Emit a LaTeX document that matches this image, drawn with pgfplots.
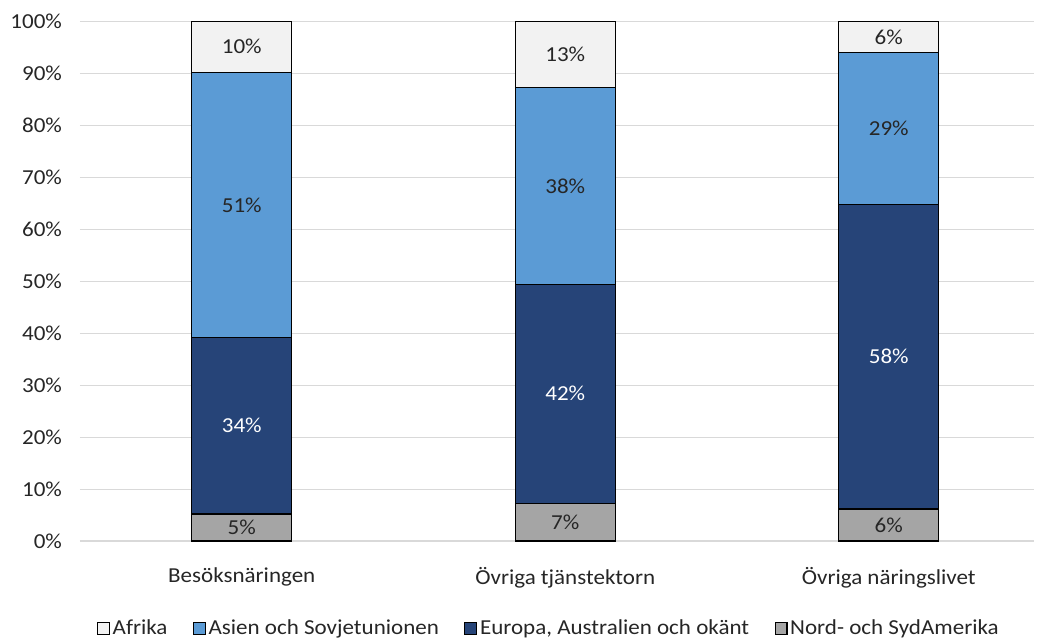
\documentclass[border=0pt]{standalone}
\usepackage{pgfplots}
\pgfplotsset{compat=1.18}
\usepackage{fontspec}
\setmainfont{Carlito}[FakeStretch=1.08]
\definecolor{cAfr}{HTML}{F2F2F2}
\definecolor{cAsi}{HTML}{5B9BD5}
\definecolor{cEur}{HTML}{264478}
\definecolor{cNor}{HTML}{A5A5A5}
\definecolor{cGrid}{HTML}{D9D9D9}
\definecolor{cTxt}{HTML}{262626}
\pgfplotsset{
  base/.style={
    scale only axis,
    width=716pt, height=390pt,
    xmin=-0.5, xmax=2.45,
    ymin=0, ymax=100,
    clip=false,
  }
}
\begin{document}
\begin{tikzpicture}
\begin{axis}[
  base,
  ybar stacked, bar width=75pt,
  ytick={0,10,...,100},
  yticklabel={\pgfmathprintnumber{\tick}\%},
  /pgf/number format/assume math mode=true,
  xtick={0,1,2},
  xticklabels={Besöksnäringen,Övriga tjänstektorn,Övriga näringslivet},
  tick style={draw=none},
  ymajorgrids, grid style={cGrid, line width=1pt},
  axis x line*=bottom, axis y line*=left,
  x axis line style={cGrid, line width=1pt, -},
  y axis line style={draw=none},
  ticklabel style={font=\fontsize{16pt}{19pt}\selectfont, text=cTxt},
  xticklabel style={yshift=-16pt},
  yticklabel style={xshift=-10pt},
  reverse legend,
  legend style={at={(0.5,0)}, anchor=north, yshift=-55pt, xshift=-6pt, draw=none, fill=none,
    legend columns=4, font=\fontsize{16pt}{19pt}\selectfont, text=cTxt,
    /tikz/every even column/.append style={column sep=17pt}},
  legend image code/.code={\draw[#1, draw=black, line width=0.8pt] (0pt,-4.5pt) rectangle (9pt,4.5pt);},
]
\addplot[fill=cNor, draw=black, line width=1pt]
  coordinates {(0,5.2) (1,7.3) (2,6.2)};
\addplot[fill=cEur, draw=black, line width=1pt]
  coordinates {(0,34.0) (1,42.1) (2,58.6)};
\addplot[fill=cAsi, draw=black, line width=1pt]
  coordinates {(0,51.0) (1,37.9) (2,29.2)};
\addplot[fill=cAfr, draw=black, line width=1pt]
  coordinates {(0,9.8) (1,12.7) (2,6.0)};
\legend{Nord- och SydAmerika, {Europa, Australien och okänt}, Asien och Sovjetunionen, Afrika}
\coordinate (sw) at (rel axis cs:0,0);
\coordinate (ne) at (rel axis cs:1,1);
\end{axis}
\begin{axis}[
  base, hide axis,
  point meta=explicit symbolic,
  nodes near coords,
  every node near coord/.append style={anchor=center, font=\fontsize{16pt}{19pt}\selectfont},
]
\addplot[draw=none, mark=none, nodes near coords, every node near coord/.append style={text=cTxt}]
  coordinates {(0,2.6) [5\%] (1,3.65) [7\%] (2,3.1) [6\%]};
\addplot[draw=none, mark=none, nodes near coords, every node near coord/.append style={text=white}]
  coordinates {(0,22.2) [34\%] (1,28.35) [42\%] (2,35.5) [58\%]};
\addplot[draw=none, mark=none, nodes near coords, every node near coord/.append style={text=cTxt}]
  coordinates {(0,64.7) [51\%] (1,68.35) [38\%] (2,79.4) [29\%]};
\addplot[draw=none, mark=none, nodes near coords, every node near coord/.append style={text=cTxt}]
  coordinates {(0,95.1) [10\%] (1,93.65) [13\%] (2,97.0) [6\%]};
\end{axis}
\path (sw) ++(-60pt,-75pt) coordinate (a);
\path (ne) ++(2pt,16pt) coordinate (b);
\pgfresetboundingbox
\path[use as bounding box] (a) rectangle (b);
\end{tikzpicture}
\end{document}
